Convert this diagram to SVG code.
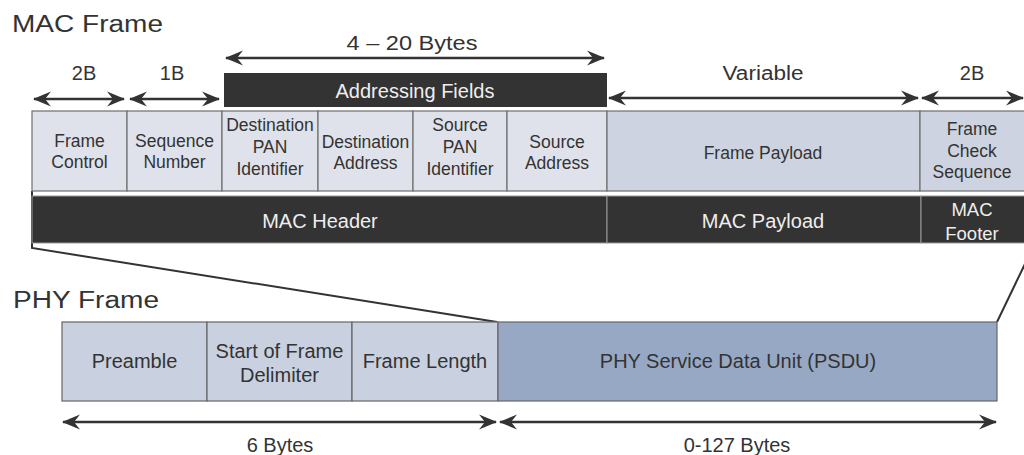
<svg xmlns="http://www.w3.org/2000/svg" width="1024" height="455" viewBox="0 0 1024 455">
<defs>
<style>
.t{font-family:"Liberation Sans",Arial,Helvetica,sans-serif;fill:#333;text-anchor:middle}
.c{font-size:17.5px}
.w{fill:#eeeeee;font-size:20px}
.p{font-size:20px}
.h{font-family:"Liberation Sans",Arial,sans-serif;fill:#333;font-size:23px}
.lc{fill:#dfe2ea;stroke:#6f6f6f;stroke-width:1.2}
.pc{fill:#cdd3e0;stroke:#6f6f6f;stroke-width:1.2}
.ph{fill:#c9d1e0;stroke:#666;stroke-width:1.2}
.ps{fill:#97a8c4;stroke:#666;stroke-width:1.2}
.bar{fill:#333333}
.arr{stroke:#333;stroke-width:2.5;fill:none;marker-start:url(#ah);marker-end:url(#ah)}
.fun{stroke:#333;stroke-width:2;fill:none}
</style>
<marker id="ah" viewBox="-18 -9 19 18" refX="0" refY="0" markerWidth="19" markerHeight="18" markerUnits="userSpaceOnUse" orient="auto-start-reverse">
<path d="M1,0 L-17,-7.5 L-11,0 L-17,7.5 Z" fill="#333"/>
</marker>
</defs>
<rect width="1024" height="455" fill="#ffffff"/>

<text class="h" x="12" y="32" textLength="151" lengthAdjust="spacingAndGlyphs">MAC Frame</text>
<text class="h" x="13" y="308" textLength="146" lengthAdjust="spacingAndGlyphs">PHY Frame</text>

<g id="connectors">
<line class="arr" x1="226" y1="58" x2="604" y2="58"/>
<line class="arr" x1="34" y1="99" x2="124" y2="99"/>
<line class="arr" x1="130" y1="99" x2="219" y2="99"/>
<line class="arr" x1="609" y1="98" x2="918" y2="98"/>
<line class="arr" x1="922" y1="98" x2="1023" y2="98"/>
<line class="arr" x1="63" y1="422" x2="496" y2="422"/>
<line class="arr" x1="500" y1="422" x2="996" y2="422"/>
<polyline class="fun" points="32,191 32,248 497,322"/>
<line class="fun" x1="997" y1="322" x2="1035" y2="243"/>
</g>

<g id="labels">
<text class="t p" x="412" y="50" textLength="131" lengthAdjust="spacingAndGlyphs">4 – 20 Bytes</text>
<text class="t p" x="84" y="80">2B</text>
<text class="t p" x="172" y="80">1B</text>
<text class="t p" x="763" y="80" textLength="81" lengthAdjust="spacingAndGlyphs">Variable</text>
<text class="t p" x="972" y="80">2B</text>
<text class="t p" x="280" y="452">6 Bytes</text>
<text class="t p" x="737" y="452">0-127 Bytes</text>
</g>

<g id="addressing-fields">
<rect class="bar" x="224" y="73" width="383" height="34"/>
<text class="t w" x="415" y="98">Addressing Fields</text>
</g>

<g id="frame-control">
<rect class="lc" x="32" y="111" width="95" height="80"/>
<text class="t c" x="79.5" y="147">Frame</text>
<text class="t c" x="79.5" y="168">Control</text>
</g>
<g id="sequence-number">
<rect class="lc" x="127" y="111" width="95" height="80"/>
<text class="t c" x="174.5" y="147">Sequence</text>
<text class="t c" x="174.5" y="168">Number</text>
</g>
<g id="dest-pan">
<rect class="lc" x="222" y="111" width="96" height="80"/>
<text class="t c" x="270" y="131">Destination</text>
<text class="t c" x="270" y="153">PAN</text>
<text class="t c" x="270" y="175">Identifier</text>
</g>
<g id="dest-address">
<rect class="lc" x="318" y="111" width="95" height="80"/>
<text class="t c" x="365.5" y="148">Destination</text>
<text class="t c" x="365.5" y="169">Address</text>
</g>
<g id="source-pan">
<rect class="lc" x="413" y="111" width="94" height="80"/>
<text class="t c" x="460" y="131">Source</text>
<text class="t c" x="460" y="153">PAN</text>
<text class="t c" x="460" y="175">Identifier</text>
</g>
<g id="source-address">
<rect class="lc" x="507" y="111" width="100" height="80"/>
<text class="t c" x="557" y="148">Source</text>
<text class="t c" x="557" y="169">Address</text>
</g>
<g id="frame-payload">
<rect class="pc" x="607" y="111" width="313" height="80"/>
<text class="t c" x="763" y="159">Frame Payload</text>
</g>
<g id="fcs">
<rect class="pc" x="920" y="111" width="106" height="80"/>
<text class="t c" x="972" y="135">Frame</text>
<text class="t c" x="972" y="157">Check</text>
<text class="t c" x="972" y="178">Sequence</text>
</g>

<g id="mac-header">
<rect class="bar" x="32" y="196" width="575" height="47" stroke="#9a9a9a" stroke-width="1"/>
<text class="t w" x="320" y="228">MAC Header</text>
</g>
<g id="mac-payload">
<rect class="bar" x="607" y="196" width="314" height="47" stroke="#9a9a9a" stroke-width="1"/>
<text class="t w" x="763" y="228">MAC Payload</text>
</g>
<g id="mac-footer">
<rect class="bar" x="921" y="196" width="105" height="47" stroke="#9a9a9a" stroke-width="1"/>
<text class="t w" x="972" y="216" style="font-size:18.5px">MAC</text>
<text class="t w" x="972" y="240" style="font-size:18.5px">Footer</text>
</g>

<g id="preamble">
<rect class="ph" x="62" y="322" width="145" height="79"/>
<text class="t p" x="134.5" y="368">Preamble</text>
</g>
<g id="sfd">
<rect class="ph" x="207" y="322" width="145" height="79"/>
<text class="t p" x="279.5" y="358">Start of Frame</text>
<text class="t p" x="279.5" y="382">Delimiter</text>
</g>
<g id="frame-length">
<rect class="ph" x="352" y="322" width="146" height="79"/>
<text class="t p" x="425" y="368">Frame Length</text>
</g>
<g id="psdu">
<rect class="ps" x="498" y="322" width="499" height="79"/>
<text class="t p" x="738" y="368">PHY Service Data Unit (PSDU)</text>
</g>
</svg>
